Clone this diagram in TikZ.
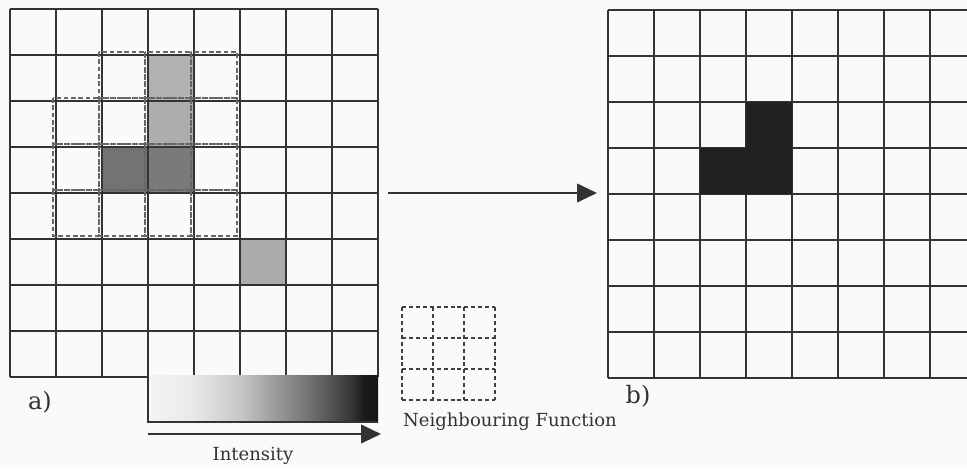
\documentclass[tikz,border=0pt]{standalone}
\usepackage{fontspec}
\setmainfont{DejaVu Serif}
\usetikzlibrary{positioning}
\usetikzlibrary{arrows.meta}

% intensity scale, light on the left and black on the right
\pgfdeclarehorizontalshading{intensityramp}{100bp}{
  color(0bp)=(black!4); color(25bp)=(black!4); color(35bp)=(black!9);
  color(45bp)=(black!22); color(53bp)=(black!40); color(62bp)=(black!60);
  color(69bp)=(black!78); color(72bp)=(black!90); color(75bp)=(black!92);
  color(100bp)=(black!92)}

\begin{document}
\begin{tikzpicture}[x=0.75pt,y=-0.75pt,
  gridline/.style={line width=1.5pt,black!80},
  window/.style={line width=1.3pt,black!60,dash pattern=on 3.5pt off 2pt},
  smallwindow/.style={line width=1pt,black!75,dash pattern=on 3pt off 2.2pt},
  caption/.style={font=\fontsize{13.5}{16}\selectfont,text=black!80,inner sep=0pt},
  partlabel/.style={caption,font=\fontsize{18}{20}\selectfont},
  bigarrow/.style={line width=1.5pt,black!80,-{Triangle[length=15pt,width=14pt]}}]
\useasboundingbox (0,0) rectangle (967,468);
\clip (0,0) rectangle (967,468);
\fill[black!2] (0,0) rectangle (967,468);

% a) input image
\begin{scope}[shift={(10,9)}]
\fill[black!30] (3*46,1*46) rectangle ++(46,46);
\fill[black!32] (3*46,2*46) rectangle ++(46,46);
\fill[black!55] (2*46,3*46) rectangle ++(46,46);
\fill[black!52] (3*46,3*46) rectangle ++(46,46);
\fill[black!33] (5*46,5*46) rectangle ++(46,46);
\foreach \i in {0,...,8}
{
	\draw[gridline] (\i*46,0) -- (\i*46,368);
	\draw[gridline] (0,\i*46) -- (368,\i*46);
}
% overlapping 3x3 windows
\foreach \c/\r in {2/1,3/1,4/1,1/2,2/2,3/2,4/2,1/3,2/3,3/3,4/3,1/4,2/4,3/4,4/4}
{
	\draw[window] (\c*46-3,\r*46-3) rectangle ++(46,46);
}
\end{scope}

% intensity bar
\fill[shading=intensityramp] (148,375) rectangle (378,422);
\draw[gridline] (148,375) -- (148,422) -- (378,422);
\coordinate (scale start) at (148,434);
\coordinate (scale end) at (381,434);
\draw[bigarrow] (scale start) -- (scale end);
\node[caption] (intensity) at (253,456) {Intensity};
\node[partlabel] (label a) at (40,402) {a)};

% b) output image
\begin{scope}[shift={(608,10)}]
\foreach \i in {0,...,8}
{
	\draw[gridline] (\i*46,0) -- (\i*46,368);
	\draw[gridline] (0,\i*46) -- (368,\i*46);
}
\fill[black!87] (2*46,3*46) -- (2*46,4*46) -- (4*46,4*46) -- (4*46,2*46)
	-- (3*46,2*46) -- (3*46,3*46) -- cycle;
\end{scope}
\node[partlabel] (label b) at (638,396) {b)};

% mapping arrow
\coordinate (map start) at (388,193);
\coordinate (map end) at (597,193);
\draw[bigarrow] (map start) -- (map end);

% neighbouring function
\begin{scope}[shift={(402,307)}]
\foreach \i in {0,...,3}
{
	\draw[smallwindow] (\i*31,0) -- (\i*31,93);
	\draw[smallwindow] (0,\i*31) -- (93,\i*31);
}
\end{scope}
\node[caption] (neighbour) at (510,422) {Neighbouring Function};
\end{tikzpicture}
\end{document}
